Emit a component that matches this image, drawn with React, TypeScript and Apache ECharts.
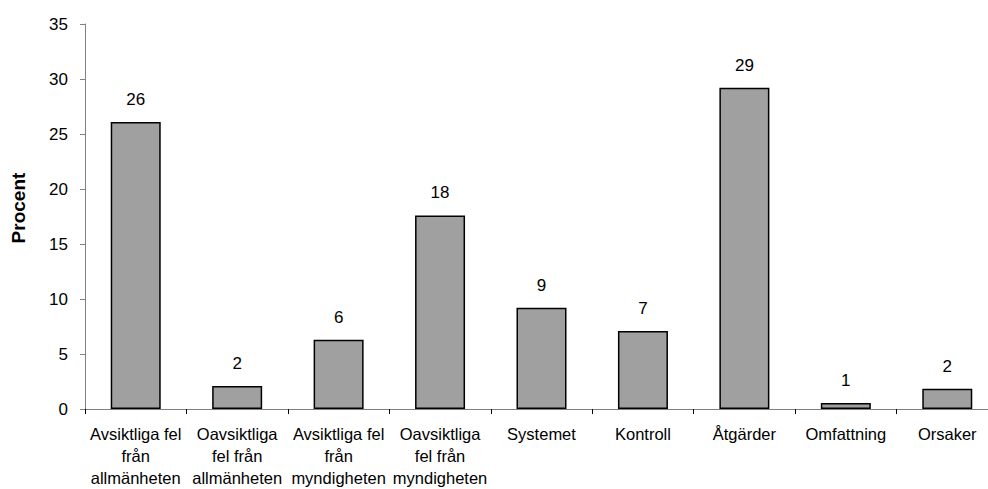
import React, { useEffect, useRef } from "react";
import * as echarts from "echarts";

const categories: string[] = [
  "Avsiktliga fel\nfrån\nallmänheten",
  "Oavsiktliga\nfel från\nallmänheten",
  "Avsiktliga fel\nfrån\nmyndigheten",
  "Oavsiktliga\nfel från\nmyndigheten",
  "Systemet",
  "Kontroll",
  "Åtgärder",
  "Omfattning",
  "Orsaker",
];
const values: number[] = [26.1, 2.1, 6.3, 17.6, 9.2, 7.1, 29.2, 0.55, 1.85];
const yTicks = { min: 0, max: 35, interval: 5 };
const yTitle = "Procent";

const FONT = "Liberation Sans, Arial, sans-serif";

export default function App() {
  const ref = useRef<HTMLDivElement>(null);
  useEffect(() => {
    document.body.style.margin = "0";
    const chart = echarts.init(ref.current!, null, { renderer: "svg" });
    chart.setOption({
      animation: false,
      backgroundColor: "#ffffff",
      grid: { left: 85, top: 24, bottom: 79, right: 0, containLabel: false },
      graphic: [
        {
          type: "text",
          x: 18,
          y: 208,
          rotation: Math.PI / 2,
          style: {
            text: yTitle,
            font: `bold 19px ${FONT}`,
            fill: "#000",
            align: "center",
            verticalAlign: "middle",
          },
        },
      ],
      xAxis: {
        type: "category",
        data: categories,
        axisLine: { lineStyle: { color: "#808080", width: 1 } },
        axisTick: { show: true, length: 5, lineStyle: { color: "#000" } },
        axisLabel: {
          interval: 0,
          color: "#000",
          fontFamily: FONT,
          fontSize: 16.5,
          lineHeight: 22,
          margin: 14,
        },
      },
      yAxis: {
        type: "value",
        min: yTicks.min,
        max: yTicks.max,
        interval: yTicks.interval,
        axisLine: { show: true, lineStyle: { color: "#808080", width: 1 } },
        axisTick: { show: true, length: 5, lineStyle: { color: "#808080" } },
        splitLine: { show: false },
        axisLabel: { color: "#000", fontFamily: FONT, fontSize: 17, margin: 17 },
      },
      series: [
        {
          type: "bar",
          data: values,
          barWidth: 50,
          itemStyle: { color: "#a0a0a0", borderColor: "#000", borderWidth: 1.5 },
          label: {
            show: true,
            position: "top",
            distance: 14,
            color: "#000",
            fontFamily: FONT,
            fontSize: 17,
            formatter: (p: any) => String(Math.round(p.value)),
          },
        },
      ],
    });
    return () => chart.dispose();
  }, []);
  return (
    <div style={{ position: "fixed", left: 0, top: 0, width: 988, height: 489, overflow: "hidden" }}>
      <div ref={ref} style={{ width: 998, height: 489 }} />
    </div>
  );
}
